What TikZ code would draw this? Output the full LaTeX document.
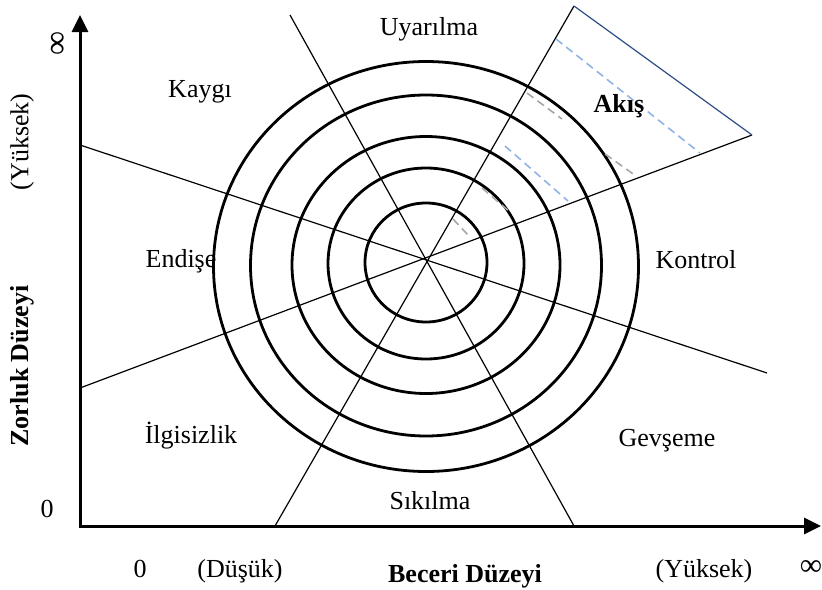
\documentclass[tikz,border=0pt]{standalone}
\usepackage{fontspec}
\setmainfont{Liberation Serif}
\usetikzlibrary{arrows.meta}
\definecolor{flowblue}{HTML}{8EB4E3}
\definecolor{flowgray}{HTML}{A6A6A6}
\definecolor{edgeblue}{HTML}{2E4D85}
\tikzset{%
  myaxis/.style={<->, >={Triangle[length=8.5pt, width=8pt]}, line width=1.5pt},
  myring/.style={line width=1.4pt},
  myline/.style={line width=0.6pt},
  mylabel/.style={font=\fontsize{13}{15}\selectfont, inner sep=0pt},
  mybold/.style={font=\fontsize{13}{15}\selectfont\bfseries, inner sep=0pt},
  mydash/.style={line width=0.8pt, dash pattern=on 4pt off 2.5pt}
}

\begin{document}
\begin{tikzpicture}[x=0.5pt, y=-0.5pt]
  \useasboundingbox (0,0) rectangle (822,589);
  \coordinate (O) at (80,526);
  \coordinate (Ytop) at (80,15);
  \coordinate (Xend) at (821,526);
  \draw [myaxis] (Ytop) -- (O) -- (Xend);
  \foreach \rx/\ry/\cy in {61/59.5/262.5, 98/95.5/263.5, 134/128.5/265, 175.5/170.5/265.5, 212.5/205/266.5}
    \draw [myring] (426,\cy) ellipse ({\rx} and {\ry});
  \coordinate (A1) at (80,145);
  \coordinate (A2) at (767,373);
  \coordinate (B1) at (80,388);
  \coordinate (B2) at (752,135);
  \coordinate (C1) at (290,15);
  \coordinate (C2) at (574,526);
  \coordinate (D1) at (275,526);
  \coordinate (D2) at (574,6);
  \draw [myline] (A1) -- (A2);
  \draw [myline] (B1) -- (B2);
  \draw [myline] (C1) -- (C2);
  \draw [myline] (D1) -- (D2);
  \draw [myline, edgeblue] (D2) -- (B2);
  \coordinate (p1) at (556,39);
  \coordinate (p2) at (700,153);
  \coordinate (q1) at (505,146);
  \coordinate (q2) at (568,201);
  \draw [mydash, flowblue] (p1) -- (p2);
  \draw [mydash, flowblue] (q1) -- (q2);
  \coordinate (g1) at (527,93);
  \coordinate (g2) at (562,119);
  \coordinate (g3) at (605,154);
  \coordinate (g4) at (636,176);
  \coordinate (g5) at (482,188);
  \coordinate (g6) at (510,212);
  \coordinate (g7) at (453,219);
  \coordinate (g8) at (468,235);
  \draw [mydash, flowgray] (g1) -- (g2);
  \draw [mydash, flowgray] (g3) -- (g4);
  \draw [mydash, flowgray] (g5) -- (g6);
  \draw [mydash, flowgray] (g7) -- (g8);
  \node [mylabel, anchor=base] (uyarilma) at (429,35) {Uyarılma};
  \node [mylabel, anchor=base] (kaygi) at (200,97) {Kaygı};
  \node [mybold, anchor=base] (akis) at (619,112) {Akış};
  \node [mylabel, anchor=base] (endise) at (181,267) {Endişe};
  \node [mylabel, anchor=base] (kontrol) at (696,268) {Kontrol};
  \node [mylabel, anchor=base] (ilgisizlik) at (191,443) {İlgisizlik};
  \node [mylabel, anchor=base] (gevseme) at (667,446) {Gevşeme};
  \node [mylabel, anchor=base] (sikilma) at (430,509) {Sıkılma};
  \node [mylabel, rotate=90, scale=1.3] (inftyY) at (59,43) {∞};
  \node [mylabel, rotate=90] (highY) at (22,142) {(Yüksek)};
  \node [mybold, rotate=90] (yname) at (22,366) {Zorluk Düzeyi};
  \node [mylabel, anchor=base] (zeroY) at (47,517) {0};
  \node [mylabel, anchor=base] (zeroX) at (140,577) {0};
  \node [mylabel, anchor=base] (lowX) at (240,577) {(Düşük)};
  \node [mybold, anchor=base] (xname) at (465,582) {Beceri Düzeyi};
  \node [mylabel, anchor=base] (highX) at (704,577) {(Yüksek)};
  \node [mylabel, scale=1.2] (inftyX) at (811,568) {∞};
\end{tikzpicture}
\end{document}
